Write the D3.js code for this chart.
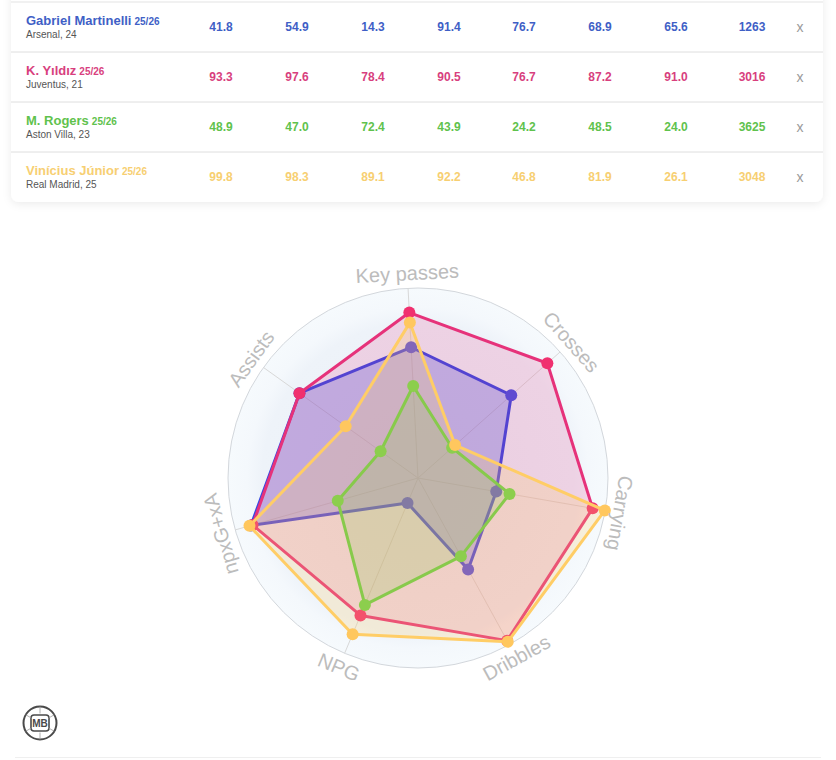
<!DOCTYPE html>
<html>
<head>
<meta charset="utf-8">
<script src="https://cdn.jsdelivr.net/npm/d3@7"></script>
<style>
  body { margin: 0; background: #fff; }
  svg { display: block; font-family: "Liberation Sans", Arial, sans-serif; }
</style>
</head>
<body>
<div id="chart"></div>
<script>
'use strict';

// data ---------------------
const players  = ['Gabriel Martinelli', 'K. Yıldız', 'M. Rogers', 'Vinícius Júnior']
const seasons  = ['25/26', '25/26', '25/26', '25/26']
const clubs    = ['Arsenal, 24', 'Juventus, 21', 'Aston Villa, 23', 'Real Madrid, 25']
const metrics  = ['Carrying', 'Dribbles', 'NPG', 'npxG+xA', 'Assists', 'Key passes', 'Crosses']
const martinelli = [41.8, 54.9, 14.3, 91.4, 76.7, 68.9, 65.6]
const yildiz     = [93.3, 97.6, 78.4, 90.5, 76.7, 87.2, 91.0]
const rogers     = [48.9, 47.0, 72.4, 43.9, 24.2, 48.5, 24.0]
const vinicius   = [99.8, 98.3, 89.1, 92.2, 46.8, 81.9, 26.1]
const minutes    = [1263, 3016, 3625, 3048]

const series = [martinelli, yildiz, rogers, vinicius]

// look ---------------------
const width  = 836
const height = 760
const text_colors = ['#3f5fc6', '#d83f7e', '#5fc24d', '#f7cf72']
const line_colors = ['#3548e2', '#e6327a', '#66c944', '#ffcd66']
const dot_colors  = ['#4450e2', '#f0306f', '#6ccf47', '#ffc75e']
const fill_alpha  = [0.28, 0.17, 0.2, 0.22]

const card_x = 11, card_w = 812, row_h = 50, row_top = 2
const col_x  = [221, 297, 373, 449, 524, 600, 676, 752]

const cx = 418, cy = 478, radius = 190
const step = 360 / metrics.length
const kp_angle = -3   // Key passes sits just left of vertical

var svg = d3.select('#chart').append('svg')
    .attr('width', width)
    .attr('height', height)

var defs = svg.append('defs')

var shadow = defs.append('filter').attr('id', 'shadow')
    .attr('x', '-5%').attr('y', '-20%').attr('width', '110%').attr('height', '140%')
shadow.append('feDropShadow')
    .attr('dx', 0).attr('dy', 2).attr('stdDeviation', 4)
    .attr('flood-color', '#000').attr('flood-opacity', 0.08)

var bg = defs.append('radialGradient').attr('id', 'radarbg')
bg.append('stop').attr('offset', '0%').attr('stop-color', '#eaeff5')
bg.append('stop').attr('offset', '82%').attr('stop-color', '#eef3f9')
bg.append('stop').attr('offset', '90%').attr('stop-color', '#f4f8fc')
bg.append('stop').attr('offset', '100%').attr('stop-color', '#f6fafd')

// TABLE CARD ---------------------
svg.append('rect')
    .attr('x', card_x).attr('y', -12)
    .attr('width', card_w).attr('height', 214)
    .attr('rx', 8)
    .attr('fill', '#fff')
    .attr('filter', 'url(#shadow)')

svg.append('line')
    .attr('x1', card_x).attr('x2', card_x + card_w)
    .attr('y1', row_top).attr('y2', row_top)
    .attr('stroke', '#e3e3e3')

var rows = svg.append('g').selectAll('g')
    .data(players)
    .enter().append('g')
    .attr('transform', function(d, i) { return 'translate(0,' + (row_top + i * row_h) + ')' })

rows.filter(function(d, i) { return i > 0 }).append('line')
    .attr('x1', card_x).attr('x2', card_x + card_w)
    .attr('y1', 0).attr('y2', 0)
    .attr('stroke', '#dedede')

var nametext = rows.append('text')
    .attr('x', 26).attr('y', 23)
    .attr('font-size', 13).attr('font-weight', 'bold')
    .attr('fill', function(d, i) { return text_colors[i] })
nametext.append('tspan').text(function(d) { return d })
nametext.append('tspan')
    .attr('font-size', 10)
    .attr('dx', 3)
    .text(function(d, i) { return seasons[i] })

rows.append('text')
    .attr('x', 26).attr('y', 36)
    .attr('font-size', 10)
    .attr('fill', '#555')
    .text(function(d, i) { return clubs[i] })

rows.each(function(d, i) {
    var cells = series[i].map(function(v) { return v.toFixed(1) }).concat([String(minutes[i])])
    d3.select(this).selectAll('text.val')
        .data(cells)
        .enter().append('text')
        .attr('class', 'val')
        .attr('x', function(v, j) { return col_x[j] })
        .attr('y', 29)
        .attr('text-anchor', 'middle')
        .attr('font-size', 12).attr('font-weight', 'bold')
        .attr('fill', text_colors[i])
        .text(function(v) { return v })
})

rows.append('text')
    .attr('x', 800).attr('y', 30)
    .attr('text-anchor', 'middle')
    .attr('font-size', 14)
    .attr('fill', '#9a9a9a')
    .text('x')

// RADAR ---------------------
var r = d3.scaleLinear().domain([0, 100]).range([0, radius])

// angle (degrees, clockwise from top) for each metric
var kp = metrics.indexOf('Key passes')
var angle = function(i) {
    var a = kp_angle + (i - kp) * step
    return ((a % 360) + 360) % 360
}
var rad = function(i) { return angle(i) * Math.PI / 180 }

var radar = svg.append('g').attr('transform', 'translate(' + cx + ',' + cy + ')')

radar.append('circle')
    .attr('r', radius)
    .attr('fill', 'url(#radarbg)')
    .attr('stroke', '#d3d7dc')
    .attr('stroke-width', 1)

radar.append('g').selectAll('line')
    .data(metrics)
    .enter().append('line')
    .attr('x1', 0).attr('y1', 0)
    .attr('x2', function(d, i) { return r(100) * Math.sin(rad(i)) })
    .attr('y2', function(d, i) { return -r(100) * Math.cos(rad(i)) })
    .attr('stroke', '#d8d8d8')
    .attr('stroke-width', 1)

var shape = d3.lineRadial()
    .angle(function(v, i) { return rad(i) })
    .radius(function(v) { return r(v) })
    .curve(d3.curveLinearClosed)

var player = radar.append('g').selectAll('g')
    .data(series)
    .enter().append('g')

player.append('path')
    .attr('d', function(d) { return shape(d) })
    .attr('fill', function(d, i) { return line_colors[i] })
    .attr('fill-opacity', function(d, i) { return fill_alpha[i] })
    .attr('stroke', function(d, i) { return line_colors[i] })
    .attr('stroke-width', 3)
    .attr('stroke-linejoin', 'round')

player.each(function(d, i) {
    d3.select(this).selectAll('circle')
        .data(d)
        .enter().append('circle')
        .attr('cx', function(v, j) { return r(v) * Math.sin(rad(j)) })
        .attr('cy', function(v, j) { return -r(v) * Math.cos(rad(j)) })
        .attr('r', 6)
        .attr('fill', dot_colors[i])
})

// axis labels, turned along the rim, flipped at the bottom so they read
radar.append('g').selectAll('text')
    .data(metrics)
    .enter().append('text')
    .attr('transform', function(d, i) {
        var a = angle(i)
        var x = (radius + 15) * Math.sin(rad(i))
        var y = -(radius + 15) * Math.cos(rad(i))
        var rot = (a > 120 && a < 240) ? a - 180 : a
        return 'translate(' + x + ',' + y + ') rotate(' + rot + ')'
    })
    .attr('text-anchor', 'middle')
    .attr('dominant-baseline', 'central')
    .attr('font-size', 20)
    .attr('fill', '#bcbcbc')
    .text(function(d) { return d })

// LOGO ---------------------
var logo = svg.append('g').attr('transform', 'translate(40,723)')
logo.append('circle')
    .attr('r', 16.5)
    .attr('fill', 'none')
    .attr('stroke', '#4a4a4a')
    .attr('stroke-width', 2)
logo.append('rect')
    .attr('x', -9).attr('y', -8)
    .attr('width', 18).attr('height', 16)
    .attr('rx', 3)
    .attr('fill', 'none')
    .attr('stroke', '#4a4a4a')
    .attr('stroke-width', 1.6)
logo.selectAll('line')
    .data([0, 60, 120, 180, 240, 300])
    .enter().append('line')
    .attr('x1', function(d) { return 9.5 * Math.sin(d * Math.PI / 180) })
    .attr('y1', function(d) { return -9.5 * Math.cos(d * Math.PI / 180) })
    .attr('x2', function(d) { return 16.5 * Math.sin(d * Math.PI / 180) })
    .attr('y2', function(d) { return -16.5 * Math.cos(d * Math.PI / 180) })
    .attr('stroke', '#9a9a9a')
    .attr('stroke-width', 0.8)
logo.append('text')
    .attr('y', 0.5)
    .attr('text-anchor', 'middle')
    .attr('dominant-baseline', 'central')
    .attr('font-size', 10).attr('font-weight', 'bold')
    .attr('fill', '#4a4a4a')
    .text('MB')

svg.append('line')
    .attr('x1', 15).attr('x2', 821)
    .attr('y1', 757.5).attr('y2', 757.5)
    .attr('stroke', '#efefef')
</script>
</body>
</html>
